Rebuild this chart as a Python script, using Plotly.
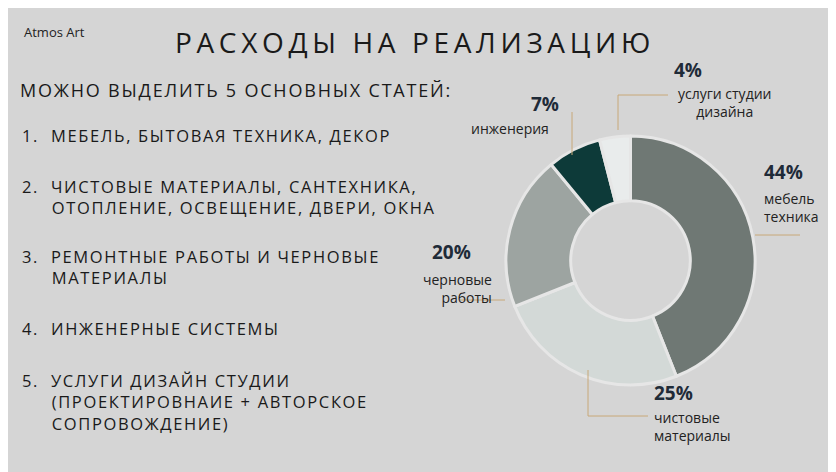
import plotly.graph_objects as go

labels = ["мебель техника", "чистовые материалы", "черновые работы", "инженерия", "услуги студии дизайна"]
values = [44, 25, 20, 7, 4]
colors = ["#6f7874", "#d3d9d7", "#9da4a1", "#0d3a39", "#e9ecec"]
items = ["1.  МЕБЕЛЬ, БЫТОВАЯ ТЕХНИКА, ДЕКОР",
         "2.  ЧИСТОВЫЕ МАТЕРИАЛЫ, САНТЕХНИКА,<br>     ОТОПЛЕНИЕ, ОСВЕЩЕНИЕ, ДВЕРИ, ОКНА",
         "3.  РЕМОНТНЫЕ РАБОТЫ И ЧЕРНОВЫЕ<br>     МАТЕРИАЛЫ",
         "4.  ИНЖЕНЕРНЫЕ СИСТЕМЫ",
         "5.  УСЛУГИ ДИЗАЙН СТУДИИ<br>     (ПРОЕКТИРОВНАИЕ + АВТОРСКОЕ<br>     СОПРОВОЖДЕНИЕ)"]
item_y = [136, 197, 267, 328, 402]

W, H = 836, 472
OX, OY = 8, 8
def px(x): return (x - OX) / W
def py(y): return 1 - (y - OY) / H

def spaced(s, sp="\u200a"):
    return "<br>".join(sp.join(line) for line in s.split("<br>"))

fig = go.Figure(go.Pie(values=values, labels=labels, hole=0.48, sort=False, direction="clockwise",
                       rotation=0, marker=dict(colors=colors, line=dict(color="#e6e6e6", width=3)),
                       textinfo="none", hoverinfo="label+percent", showlegend=False,
                       domain=dict(x=[px(506), px(755)], y=[py(385), py(136)])))

ann = []
def t(x, y, s, size, color="#222", anchor="left", bold=False):
    ann.append(dict(x=px(x), y=py(y), xref="paper", yref="paper", text=f"<b>{s}</b>" if bold else s,
                    showarrow=False, xanchor=anchor, yanchor="middle", align=anchor,
                    font=dict(size=size, color=color, family="Open Sans")))

t(22, 32, "Atmos Art", 13)
t(412, 42, spaced("РАСХОДЫ НА РЕАЛИЗАЦИЮ", "\u2009"), 28, "#1a1a1a", "center")
t(18, 90, spaced("МОЖНО ВЫДЕЛИТЬ 5 ОСНОВНЫХ СТАТЕЙ:"), 18, "#1a1a1a")
for s, y in zip(items, item_y):
    t(20, y, spaced(s), 16.5, "#1a1a1a")

num = "#1f2b38"
t(762, 172, "44%", 19, num, bold=True)
t(762, 207, "мебель<br>техника", 14)
t(652, 393, "25%", 19, num, bold=True)
t(652, 426, "чистовые<br>материалы", 14)
t(473, 252, "20%", 19, num, "right", bold=True)
t(494, 288, "черновые<br>работы", 14, anchor="right")
t(545, 104, "7%", 19, num, "center", bold=True)
t(510, 128, "инженерия", 14, anchor="center")
t(688, 70, "4%", 19, num, "center", bold=True)
t(724, 102, "услуги студии<br>дизайна", 14, anchor="center")

line = dict(color="#c8a878", width=1)
segs = [(755, 235, 800, 235), (588, 370, 588, 416), (588, 416, 648, 416),
        (460, 300, 505, 300), (572, 112, 572, 155), (618, 95, 618, 130), (618, 95, 668, 95)]
shapes = [dict(type="line", xref="paper", yref="paper", x0=px(a), y0=py(b), x1=px(c), y1=py(d), line=line)
          for a, b, c, d in segs]

fig.update_layout(width=W, height=H, margin=dict(l=0, r=0, t=0, b=0),
                  paper_bgcolor="#d5d5d5", plot_bgcolor="#d5d5d5",
                  annotations=ann, shapes=shapes)
fig.write_html("out.html")
